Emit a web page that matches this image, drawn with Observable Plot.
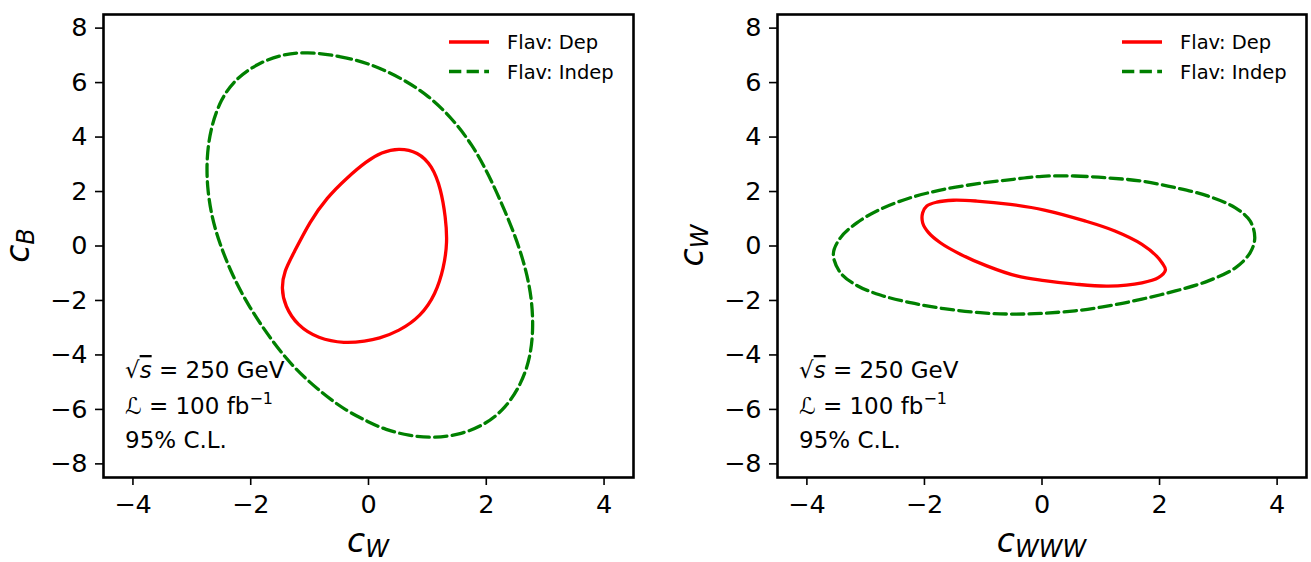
<!DOCTYPE html>
<html><head><meta charset="utf-8">
<script src="https://cdn.jsdelivr.net/npm/d3@7"></script>
<script src="https://cdn.jsdelivr.net/npm/@observablehq/plot@0.6"></script>
<style>
body{margin:0;background:#fff;}
#chart{display:flex;width:1311px;height:562px;}
svg{display:block;}
</style></head><body><div id="chart"></div>
<script>
const xTicks = [-4, -2, 0, 2, 4];
const yTicks = [-8, -6, -4, -2, 0, 2, 4, 6, 8];
const seriesNames = ["Flav: Dep", "Flav: Indep"];
const seriesColors = ["#ff0000", "#008000"];
const annotationLines = ["250 GeV", "100 fb", "95% C.L."];

// left panel: c_W (x) vs c_B (y)
const depCwCb = [
  [0.51,3.60],[0.84,3.46],[1.08,2.95],[1.23,2.10],[1.31,1.04],[1.34,0.15],[1.28,-0.80],
  [1.14,-1.77],[0.89,-2.58],[0.51,-3.14],[0.17,-3.40],[-0.05,-3.49],[-0.40,-3.58],
  [-0.86,-3.40],[-1.21,-2.92],[-1.42,-2.20],[-1.48,-1.55],[-1.43,-0.92],[-1.28,-0.30],
  [-0.99,0.92],[-0.71,1.77],[-0.37,2.50],[-0.03,3.12],[0.22,3.44]
];
const indepCwCb = [
  [-1.05,7.14],[-0.48,6.97],[0.00,6.72],[0.56,6.17],[1.02,5.52],[1.41,4.71],[1.76,3.73],
  [2.04,2.63],[2.32,1.28],[2.53,0.15],[2.68,-0.92],[2.77,-1.90],[2.80,-3.00],[2.75,-4.10],
  [2.59,-5.08],[2.33,-5.95],[1.98,-6.56],[1.58,-6.91],[1.13,-7.06],[0.68,-6.97],[0.28,-6.74],
  [0.00,-6.46],[-0.37,-6.06],[-0.77,-5.44],[-1.28,-4.46],[-1.68,-3.36],[-2.02,-2.26],
  [-2.31,-1.10],[-2.53,0.10],[-2.66,1.04],[-2.74,2.14],[-2.75,3.24],[-2.68,4.34],
  [-2.51,5.39],[-2.26,6.13],[-1.90,6.68],[-1.50,7.02]
];
// right panel: c_WWW (x) vs c_W (y)
const depCwwwCw = [
  [-1.51,1.68],[-1.11,1.65],[-0.54,1.53],[0.04,1.32],[0.73,0.92],[1.24,0.55],[1.70,0.06],
  [1.95,-0.37],[2.04,-0.61],[2.10,-0.88],[1.98,-1.16],[1.70,-1.35],[1.13,-1.47],[0.56,-1.40],
  [0.04,-1.27],[-0.43,-1.10],[-0.94,-0.73],[-1.39,-0.30],[-1.73,0.12],[-1.93,0.49],
  [-2.03,0.85],[-2.03,1.22],[-1.96,1.47],[-1.79,1.61]
];
const indepCwwwCw = [
  [0.00,2.56],[0.56,2.57],[1.13,2.50],[1.70,2.38],[2.27,2.14],[2.83,1.83],[3.29,1.40],
  [3.54,0.92],[3.62,0.30],[3.54,-0.25],[3.29,-0.80],[2.83,-1.28],[2.27,-1.65],[1.70,-1.95],
  [1.13,-2.20],[0.56,-2.38],[0.00,-2.47],[-0.49,-2.50],[-1.05,-2.45],[-1.67,-2.30],
  [-2.24,-2.08],[-2.75,-1.80],[-3.15,-1.45],[-3.43,-0.98],[-3.55,-0.30],[-3.43,0.30],
  [-3.15,0.85],[-2.75,1.35],[-2.24,1.77],[-1.67,2.08],[-1.05,2.30],[-0.49,2.45]
];

const FONT = "DejaVu Sans, sans-serif";

function panel({dep, indep, curve, width, marginLeft, marginRight, xSub, ySub}) {
  const height = 562, marginTop = 14, marginBottom = 85;
  const svg = Plot.plot({
    width, height, marginLeft, marginRight, marginTop, marginBottom,
    x: {domain: [-4.5, 4.5]},
    y: {domain: [-8.5, 8.5]},
    style: {fontFamily: FONT, background: "white", overflow: "visible", color: "black"},
    marks: [
      Plot.line(indep, {x: d => d[0], y: d => d[1], curve,
        stroke: seriesColors[1], strokeWidth: 3.3, strokeDasharray: "12.3,5.3"}),
      Plot.line(dep, {x: d => d[0], y: d => d[1], curve,
        stroke: seriesColors[0], strokeWidth: 3.3}),
      Plot.axisX({ticks: xTicks, tickSize: 8, tickPadding: 9, fontSize: 25.5, label: null, strokeWidth: 1.6}),
      Plot.axisY({ticks: yTicks, tickSize: 8, tickPadding: 8, fontSize: 25.5, label: null, strokeWidth: 1.6}),
      Plot.frame({stroke: "black", strokeWidth: 2.6})
    ]
  });
  const s = d3.select(svg);
  const fl = marginLeft, fr = width - marginRight, ft = marginTop, fb = height - marginBottom;
  // x label
  const xl = s.append("text").attr("x", (fl + fr) / 2).attr("y", 552)
    .attr("text-anchor", "middle").attr("font-family", FONT).attr("font-style", "italic")
    .attr("font-size", 33).attr("fill", "black");
  xl.append("tspan").text("c");
  xl.append("tspan").attr("font-size", 24).attr("dy", 5).text(xSub);
  // y label
  const yl = s.append("text").attr("transform", `translate(${fl - 74},${(ft + fb) / 2}) rotate(-90)`)
    .attr("text-anchor", "middle").attr("font-family", FONT).attr("font-style", "italic")
    .attr("font-size", 33).attr("fill", "black");
  yl.append("tspan").text("c");
  yl.append("tspan").attr("font-size", 24).attr("dy", 5).text(ySub);
  // legend
  const lg = s.append("g").attr("font-family", FONT).attr("font-size", 19.5).attr("fill", "black")
    .attr("text-anchor", "start");
  [42, 71.5].forEach((yy, i) => {
    lg.append("line").attr("x1", fr - 184).attr("x2", fr - 144).attr("y1", yy).attr("y2", yy)
      .attr("stroke", seriesColors[i]).attr("stroke-width", 3.5)
      .attr("stroke-dasharray", i ? "12.3,5.3" : null);
    lg.append("text").attr("x", fr - 126).attr("y", yy + 7).text(seriesNames[i]);
  });
  // annotation
  const ax = fl + 22;
  const g = s.append("g").attr("font-family", FONT).attr("font-size", 23).attr("fill", "black")
    .attr("text-anchor", "start");
  const t1 = g.append("text").attr("x", ax).attr("y", 378);
  t1.append("tspan").text("√");
  t1.append("tspan").attr("font-style", "italic").style("text-decoration", "overline").text("s");
  t1.append("tspan").text(" = " + annotationLines[0]);
  const t2 = g.append("text").attr("x", ax).attr("y", 414);
  t2.append("tspan").attr("font-style", "italic").text("ℒ");
  t2.append("tspan").text(" = " + annotationLines[1]);
  t2.append("tspan").attr("font-size", 16).attr("dy", -10).text("−1");
  g.append("text").attr("x", ax).attr("y", 448).text(annotationLines[2]);
  return svg;
}

const chart = document.getElementById("chart");
chart.append(panel({dep: depCwCb, indep: indepCwCb, curve: "basis-closed", width: 655, marginLeft: 103, marginRight: 22, xSub: "W", ySub: "B"}));
chart.append(panel({dep: depCwwwCw, indep: indepCwwwCw, curve: "catmull-rom-closed", width: 656, marginLeft: 122, marginRight: 5, xSub: "WWW", ySub: "W"}));
</script></body></html>
